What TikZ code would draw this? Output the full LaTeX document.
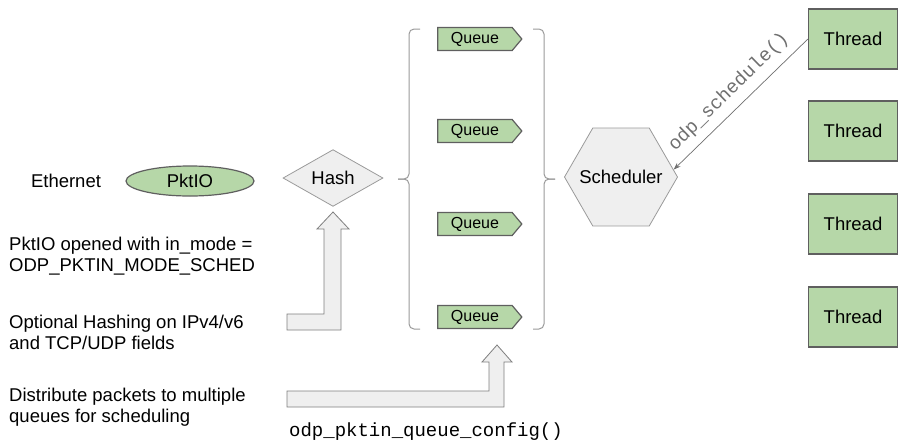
\documentclass[tikz,border=0pt]{standalone}
\usepackage{fontspec}
\setmainfont{Liberation Sans}
\setmonofont{Liberation Mono}
\usetikzlibrary{shapes.geometric,shapes.symbols,arrows.meta}
\definecolor{boxgreen}{HTML}{B6D7A8}
\definecolor{boxgray}{HTML}{EFEFEF}
\definecolor{edgedark}{HTML}{5F5F5F}
\definecolor{edgelight}{HTML}{9A9A9A}

\begin{document}
\begin{tikzpicture}[x=1pt,y=-1pt,
  every node/.style={font=\fontsize{18.5}{21}\selectfont, inner sep=0pt},
  thread/.style={draw=edgedark, fill=boxgreen, line width=1.2pt,
    minimum width=89pt, minimum height=60pt},
  queue/.style={signal, signal to=east, signal pointer angle=100,
    draw=edgedark, fill=boxgreen, line width=1.2pt,
    minimum width=84pt, minimum height=23pt,
    font=\fontsize{16}{18}\selectfont},
  graybox/.style={draw=edgelight, fill=boxgray, line width=0.8pt},
  bigarrow/.style={draw=edgedark!80, fill=boxgray, line width=0.8pt},
  bracket/.style={draw=edgelight, line width=1pt, rounded corners=5pt},
  codetext/.style={font=\fontsize{19}{21}\ttfamily}
]
  \useasboundingbox (0,0) rectangle (899,445);

  % input side
  \node (eth) at (66,181) {Ethernet};
  \node[ellipse, draw=edgedark, fill=boxgreen, line width=1.2pt,
    minimum width=128pt, minimum height=30pt] (pktio) at (190,181) {PktIO};
  \node[diamond, graybox, minimum width=100pt, minimum height=50pt] (hash) at (333,178) {Hash};

  % notes on the left
  \node[anchor=west, align=left] (note1) at (9,256) {PktIO opened with in\_mode =\\ODP\_PKTIN\_MODE\_SCHED};
  \node[anchor=west, align=left] (note2) at (9,332) {Optional Hashing on IPv4/v6\\and TCP/UDP fields};
  \node[anchor=west, align=left] (note3) at (9,407) {Distribute packets to multiple\\queues for scheduling};

  % hollow arrows
  \draw[bigarrow] (287,314) -- (324,314) -- (324,229) -- (317,229) -- (333,212)
    -- (349,229) -- (341,229) -- (341,330) -- (287,330) -- cycle;
  \draw[bigarrow] (287,391) -- (489,391) -- (489,362) -- (482,362) -- (497,345)
    -- (512,362) -- (504,362) -- (504,407) -- (287,407) -- cycle;
  \node[codetext] (cfg) at (426,432) {odp\_pktin\_queue\_config()};

  % queues
  \foreach \y [count=\i] in {39,131,224,317}
    \node[queue] (q\i) at (475,\y) {Queue};

  % brackets round the queues
  \draw[bracket] (420,29) -| (409,179) -- (398,179);
  \draw[bracket] (398,179) -| (409,329) -- (420,329);
  \draw[bracket] (533,29) -| (544,179) -- (555,179);
  \draw[bracket] (555,179) -| (544,329) -- (533,329);

  % scheduler
  \node[regular polygon, regular polygon sides=6, graybox, minimum size=113pt,
    label=center:Scheduler] (sched) at (621,177) {};

  % threads
  \foreach \y [count=\i] in {39,131,224,317}
    \node[thread] (t\i) at (853,\y) {Thread};

  \draw[edgedark!90, line width=0.7pt, {Stealth[length=7pt,width=5pt]}-] (sched.8) -- (t1.west)
    node[codetext, midway, sloped, above=8pt] {odp\_schedule()};
\end{tikzpicture}
\end{document}
